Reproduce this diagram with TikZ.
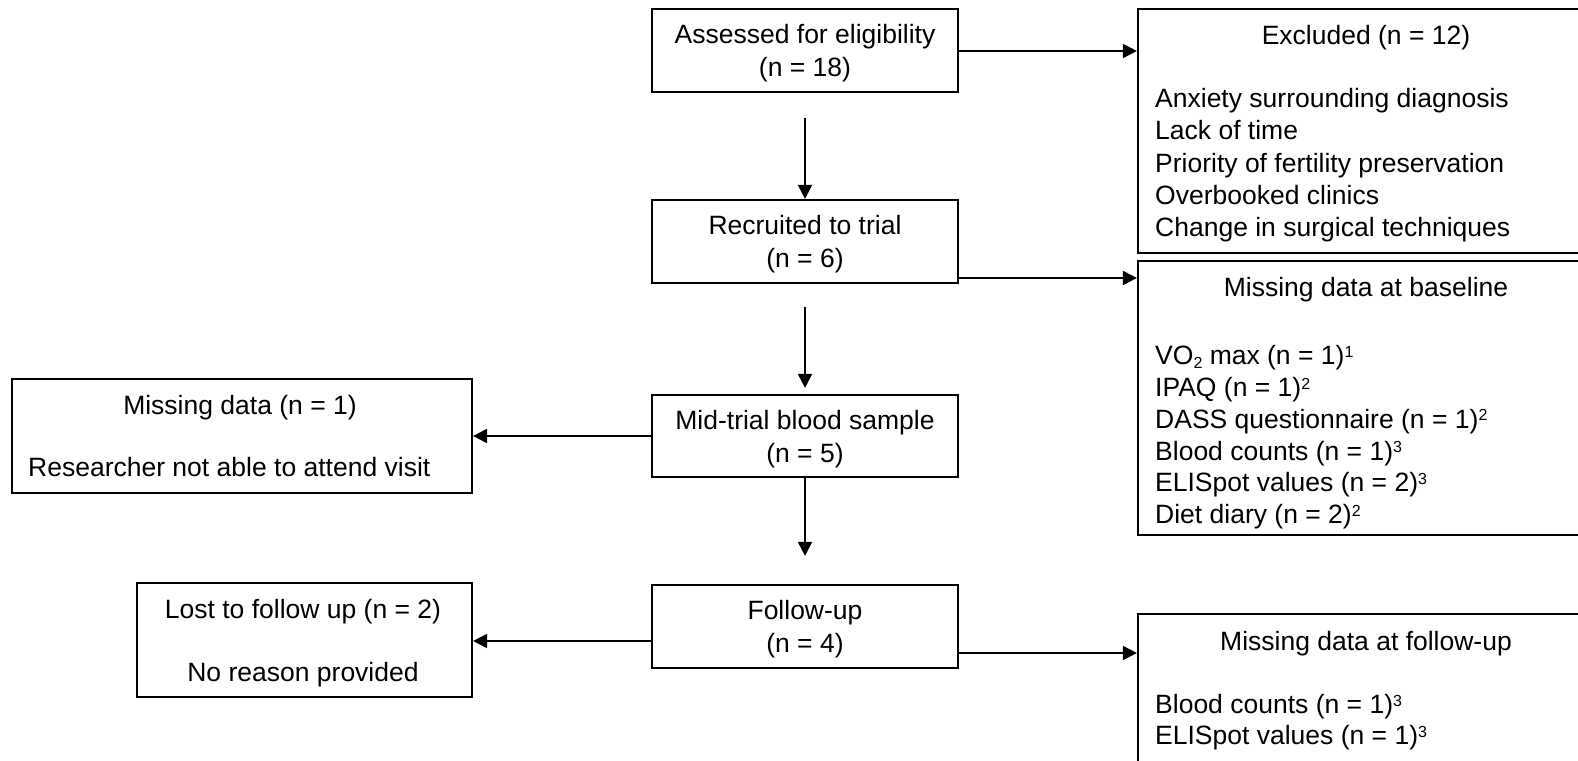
\documentclass[tikz,border=0pt]{standalone}
\usepackage{fontspec}
\setmainfont{Liberation Sans}
\usetikzlibrary{arrows.meta}
\newcommand{\supnum}[1]{\raisebox{7.5pt}{\fontsize{16}{16}\selectfont #1}}
\newcommand{\subnum}[1]{\raisebox{-4pt}{\fontsize{16}{16}\selectfont #1}}
\begin{document}
\begin{tikzpicture}[x=1pt,y=-1pt,
  flowbox/.style={draw=black,line width=2.2pt,rectangle,inner sep=0pt},
  conn/.style={line width=2pt,-{Triangle[length=14pt,width=14pt]}},
  lbl/.style={font=\fontsize{26.5}{32}\selectfont,inner sep=0pt,anchor=base}]
\clip (0,0) rectangle (1578,760);
% central column
\node[flowbox,minimum width=306pt,minimum height=83pt] (assess) at (805,50.5) {};
\node[flowbox,minimum width=306pt,minimum height=83pt] (recruit) at (805,241.5) {};
\node[flowbox,minimum width=306pt,minimum height=82pt] (mid) at (805,436) {};
\node[flowbox,minimum width=306pt,minimum height=83pt] (follow) at (805,626.5) {};
% left column
\node[flowbox,minimum width=460pt,minimum height=114pt] (miss) at (242,436) {};
\node[flowbox,minimum width=335pt,minimum height=114pt] (lost) at (304.5,640) {};
% right column
\node[flowbox,minimum width=456pt,minimum height=244pt] (exc) at (1366,131) {};
\node[flowbox,minimum width=456pt,minimum height=274pt] (base) at (1366,398) {};
\node[flowbox,minimum width=456pt,minimum height=170pt] (fmiss) at (1366,699) {};
% texts central
\node[lbl] (assessA) at (805,43.5) {Assessed for eligibility};
\node[lbl] (assessB) at (805,76.5) {(n = 18)};
\node[lbl] (recruitA) at (805,234.5) {Recruited to trial};
\node[lbl] (recruitB) at (805,267.5) {(n = 6)};
\node[lbl] (midA) at (805,429.5) {Mid-trial blood sample};
\node[lbl] (midB) at (805,462.5) {(n = 5)};
\node[lbl] (followA) at (805,619) {Follow-up};
\node[lbl] (followB) at (805,652) {(n = 4)};
% texts left
\node[lbl] (missA) at (240,414.5) {Missing data (n = 1)};
\node[lbl,anchor=base west] (missB) at (28,476.5) {Researcher not able to attend visit};
\node[lbl] (lostA) at (303,618.5) {Lost to follow up (n = 2)};
\node[lbl] (lostB) at (303,681.5) {No reason provided};
% texts right
\node[lbl] (excT) at (1366,44.5) {Excluded (n = 12)};
\node[lbl,anchor=base west] (exc1) at (1155,107.5) {Anxiety surrounding diagnosis};
\node[lbl,anchor=base west] (exc2) at (1155,139.8) {Lack of time};
\node[lbl,anchor=base west] (exc3) at (1155,172.1) {Priority of fertility preservation};
\node[lbl,anchor=base west] (exc4) at (1155,204.4) {Overbooked clinics};
\node[lbl,anchor=base west] (exc5) at (1155,236.7) {Change in surgical techniques};
\node[lbl] (baseT) at (1366,296.5) {Missing data at baseline};
\node[lbl,anchor=base west] (base1) at (1155,364.7) {VO\subnum{2} max (n = 1)\supnum{1}};
\node[lbl,anchor=base west] (base2) at (1155,396.5) {IPAQ (n = 1)\supnum{2}};
\node[lbl,anchor=base west] (base3) at (1155,428.3) {DASS questionnaire (n = 1)\supnum{2}};
\node[lbl,anchor=base west] (base4) at (1155,460.1) {Blood counts (n = 1)\supnum{3}};
\node[lbl,anchor=base west] (base5) at (1155,491.9) {ELISpot values (n = 2)\supnum{3}};
\node[lbl,anchor=base west] (base6) at (1155,523.7) {Diet diary (n = 2)\supnum{2}};
\node[lbl] (fmissT) at (1366,650.5) {Missing data at follow-up};
\node[lbl,anchor=base west] (fmiss1) at (1155,713.5) {Blood counts (n = 1)\supnum{3}};
\node[lbl,anchor=base west] (fmiss2) at (1155,744.5) {ELISpot values (n = 1)\supnum{3}};
% helper levels
\coordinate (yA) at (0,51);
\coordinate (yB) at (0,278);
\coordinate (yC) at (0,436);
\coordinate (yD) at (0,641);
\coordinate (yE) at (0,653);
% vertical connectors
\draw[conn] ([yshift=-25pt]assess.south) -- (recruit.north);
\draw[conn] ([yshift=-23pt]recruit.south) -- ([yshift=6pt]mid.north);
\draw[conn] (mid.south) -- ([yshift=28pt]follow.north);
% horizontal connectors
\draw[conn] (assess.east |- yA) -- (exc.west |- yA);
\draw[conn] (recruit.east |- yB) -- (base.west |- yB);
\draw[conn] (mid.west |- yC) -- (miss.east |- yC);
\draw[conn] (follow.west |- yD) -- (lost.east |- yD);
\draw[conn] (follow.east |- yE) -- (fmiss.west |- yE);
\end{tikzpicture}
\end{document}
